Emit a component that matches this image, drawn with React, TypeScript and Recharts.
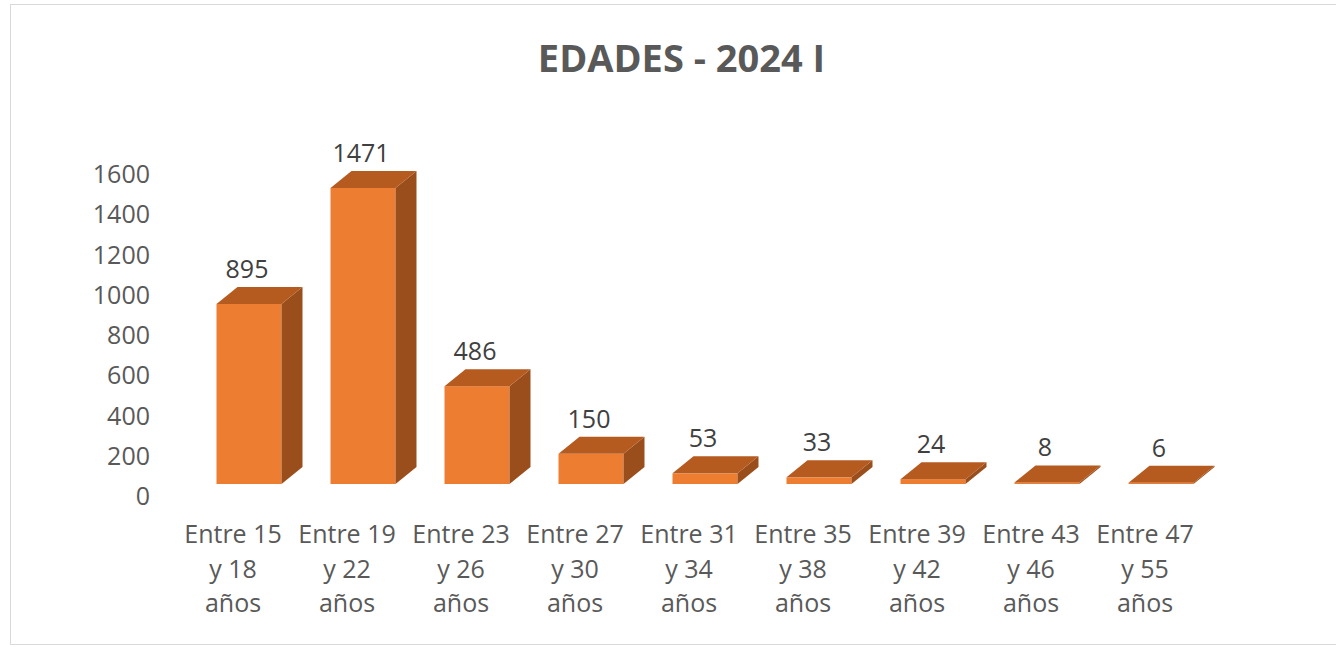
import React from "react";
import { BarChart, Bar, XAxis, YAxis, LabelList } from "recharts";

// age groups and counts
const categories = [
  "Entre 15 y 18 años",
  "Entre 19 y 22 años",
  "Entre 23 y 26 años",
  "Entre 27 y 30 años",
  "Entre 31 y 34 años",
  "Entre 35 y 38 años",
  "Entre 39 y 42 años",
  "Entre 43 y 46 años",
  "Entre 47 y 55 años",
];
const values = [895, 1471, 486, 150, 53, 33, 24, 8, 6];
const yTicks = [0, 200, 400, 600, 800, 1000, 1200, 1400, 1600];

const data = categories.map((name, i) => ({ name, value: values[i] }));

const FONT = "'Open Sans', sans-serif";
const SHIFT = 15.5; // bar sits right of the tick center
const LIFT = 12; // front face floor above axis zero
const DX = 21;
const DY = 17;

const Bar3D = (props: any) => {
  const { x, y, width, height } = props;
  const fx = x + SHIFT;
  const fy = y - LIFT;
  const h = Math.max(height, 0);
  const top = `${fx},${fy} ${fx + DX},${fy - DY} ${fx + width + DX},${fy - DY} ${fx + width},${fy}`;
  const side = `${fx + width},${fy} ${fx + width + DX},${fy - DY} ${fx + width + DX},${fy + h - DY} ${fx + width},${fy + h}`;
  return (
    <g>
      <rect x={fx} y={fy} width={width} height={h} fill="#ED7D31" />
      <polygon points={side} fill="#9A4E1C" />
      <polygon points={top} fill="#B65B20" />
    </g>
  );
};

const ValueLabel = (props: any) => {
  const { x, y, width, value } = props;
  return (
    <text
      x={x + SHIFT + width / 2 - 2}
      y={y - LIFT - DY - 9}
      textAnchor="middle"
      fill="#404040"
      fontSize={25}
      fontFamily={FONT}
    >
      {value}
    </text>
  );
};

const CategoryTick = (props: any) => {
  const { x, y, payload } = props;
  const words = String(payload.value).split(" ");
  const lines = [words.slice(0, 2).join(" "), words.slice(2, 4).join(" "), words.slice(4).join(" ")];
  return (
    <text x={x} y={y + 39} textAnchor="middle" fill="#595959" fontSize={25} fontFamily={FONT}>
      {lines.map((l, i) => (
        <tspan key={i} x={x} dy={i === 0 ? 0 : 34.5}>
          {l}
        </tspan>
      ))}
    </text>
  );
};

const ValueTick = (props: any) => {
  const { y, payload } = props;
  return (
    <text x={150} y={y + 9} textAnchor="end" fill="#595959" fontSize={25} fontFamily={FONT}>
      {payload.value}
    </text>
  );
};

export default function App() {
  return (
    <div style={{ position: "relative", width: 1336, height: 647, background: "#fff", overflow: "hidden" }}>
      <style>{`body{margin:0}`}</style>
      <div
        style={{
          position: "absolute",
          left: 10,
          top: 4,
          width: 1340,
          height: 639,
          border: "1px solid #d9d9d9",
        }}
      />
      <div
        style={{
          position: "absolute",
          left: 0,
          top: 38,
          width: 1363,
          textAlign: "center",
          fontFamily: FONT,
          fontWeight: 700,
          fontSize: 38,
          lineHeight: "38px",
          color: "#595959",
        }}
      >
        EDADES - 2024 I
      </div>
      <div style={{ position: "absolute", left: 0, top: 0 }}>
        <BarChart
          width={1336}
          height={647}
          data={data}
          margin={{ top: 174, bottom: 51, left: 126, right: 134 }}
          barSize={65}
        >
          <XAxis
            dataKey="name"
            axisLine={false}
            tickLine={false}
            interval={0}
            tick={<CategoryTick />}
            height={100}
          />
          <YAxis
            width={50}
            domain={[0, 1600]}
            ticks={yTicks}
            axisLine={false}
            tickLine={false}
            tick={<ValueTick />}
            interval={0}
          />
          <Bar dataKey="value" shape={<Bar3D />} isAnimationActive={false}>
            <LabelList dataKey="value" content={<ValueLabel />} />
          </Bar>
        </BarChart>
      </div>
    </div>
  );
}
